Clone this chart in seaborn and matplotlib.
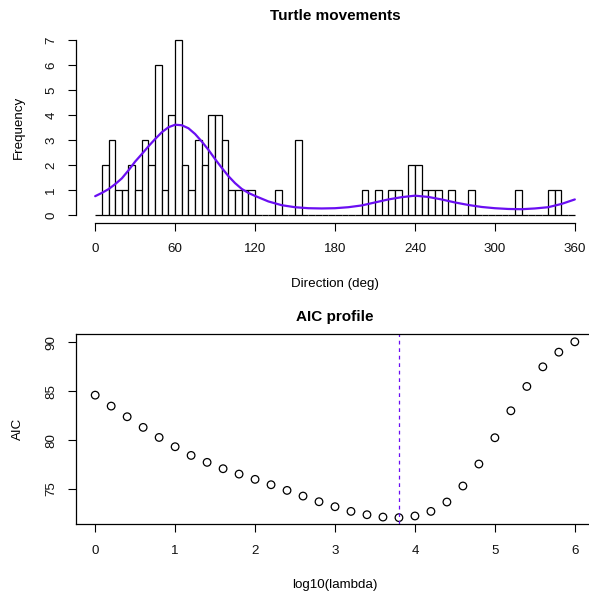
import numpy as np
import pandas as pd
import matplotlib
matplotlib.use("Agg")
import matplotlib.pyplot as plt
import seaborn as sns

sns.set_theme(style="white")
plt.rcParams["font.family"] = ["Liberation Sans", "DejaVu Sans"]
plt.rcParams["text.color"] = "black"
plt.rcParams["axes.labelcolor"] = "black"

# --- Histogram of directions: 5-degree bins, counts per bin ---
bin_edges = list(range(0, 365, 5))
bin_counts = [0, 2, 3, 1, 1, 2, 1, 3, 2, 6, 1, 4, 7, 2, 1, 3, 2, 4, 4, 3, 1, 1, 1, 1,
              0, 0, 0, 1, 0, 0, 3, 0, 0, 0, 0, 0, 0, 0, 0, 0, 1, 0, 1, 0, 1, 1, 0, 2,
              2, 1, 1, 1, 0, 1, 0, 0, 1, 0, 0, 0, 0, 0, 0, 1, 0, 0, 0, 0, 1, 1, 0, 0]

# --- Fitted density, scaled to frequency ---
curve_deg = [0, 5, 10, 15, 20, 25, 30, 35, 40, 45, 50, 55, 60, 65, 70, 75, 80, 85, 90,
             95, 100, 105, 110, 115, 120, 130, 140, 150, 160, 170, 180, 190, 200, 210,
             220, 230, 240, 250, 260, 270, 280, 290, 300, 310, 320, 330, 340, 350, 360]
curve_freq = [0.77, 0.90, 1.05, 1.25, 1.48, 1.80, 2.15, 2.45, 2.76, 3.05, 3.32, 3.52,
              3.62, 3.60, 3.48, 3.25, 2.95, 2.62, 2.25, 1.90, 1.57, 1.29, 1.06, 0.90,
              0.78, 0.56, 0.41, 0.33, 0.29, 0.28, 0.29, 0.33, 0.40, 0.52, 0.64, 0.73,
              0.79, 0.74, 0.64, 0.52, 0.42, 0.34, 0.29, 0.26, 0.25, 0.28, 0.33, 0.46, 0.64]

# --- AIC profile over log10(lambda) ---
log_lambda = [round(0.2 * i, 1) for i in range(31)]
aic = [84.61, 83.49, 82.40, 81.31, 80.28, 79.33, 78.44, 77.73, 77.08, 76.53, 75.99,
       75.44, 74.86, 74.28, 73.70, 73.19, 72.71, 72.37, 72.13, 72.07, 72.24, 72.71,
       73.67, 75.31, 77.56, 80.25, 83.01, 85.50, 87.51, 89.01, 90.07]
best_log_lambda = 3.8

x_ticks_dir = [0, 60, 120, 180, 240, 300, 360]
y_ticks_freq = [0, 1, 2, 3, 4, 5, 6, 7]
x_ticks_aic = [0, 1, 2, 3, 4, 5, 6]
y_ticks_aic = [75, 80, 85, 90]

line_col = "#6A0EF2"
W, H = 589, 596
fig = plt.figure(figsize=(W / 100, H / 100), dpi=100)

def px_axes(left, top, right, bottom):
    return fig.add_axes([left / W, 1 - bottom / H, (right - left) / W, (bottom - top) / H])

tick_fs = 9.6
lab_fs = 9.6
title_fs = 11

# ---------------- Top panel: histogram ----------------
ax1 = px_axes(76, 33, 594, 222.5)
hist_df = pd.DataFrame({"mid": [e + 2.5 for e in bin_edges[:-1]], "n": bin_counts})
sns.histplot(data=hist_df, x="mid", weights="n", bins=bin_edges, ax=ax1,
             color="white", edgecolor="black", linewidth=0.9, alpha=1)
sns.lineplot(x=curve_deg, y=curve_freq, ax=ax1, color=line_col, linewidth=1.6)
ax1.set_xlim(-14.4, 374.4)
ax1.set_ylim(-0.28, 7.28)
for s in ["top", "right"]:
    ax1.spines[s].set_visible(False)
ax1.spines["left"].set_bounds(0, 7)
ax1.spines["bottom"].set_bounds(0, 360)
ax1.set_xticks(x_ticks_dir)
ax1.set_yticks(y_ticks_freq)
ax1.set_yticklabels([str(v) for v in y_ticks_freq], rotation=90, va="center")
ax1.set_title("Turtle movements", fontsize=title_fs, fontweight="bold", pad=9)
ax1.set_xlabel("Direction (deg)", fontsize=lab_fs, labelpad=16)
ax1.set_ylabel("Frequency", fontsize=lab_fs, labelpad=15)

# ---------------- Bottom panel: AIC profile ----------------
ax2 = px_axes(76, 334, 594, 524)
sns.scatterplot(x=log_lambda, y=aic, ax=ax2, marker="o", s=30,
                facecolor="none", edgecolor="black", linewidth=0.9)
ax2.axvline(best_log_lambda, color=line_col, linestyle=(0, (3, 3)), linewidth=0.9)
ax2.set_xlim(-0.24, 6.24)
ax2.set_ylim(71.42, 90.87)
ax2.set_xticks(x_ticks_aic)
ax2.set_yticks(y_ticks_aic)
ax2.set_yticklabels([str(v) for v in y_ticks_aic], rotation=90, va="center")
ax2.set_title("AIC profile", fontsize=title_fs, fontweight="bold", pad=9)
ax2.set_xlabel("log10(lambda)", fontsize=lab_fs, labelpad=16)
ax2.set_ylabel("AIC", fontsize=lab_fs, labelpad=15)

for ax in (ax1, ax2):
    ax.set_facecolor("white")
    for s in ax.spines.values():
        s.set_color("black")
        s.set_linewidth(0.9)
    ax.tick_params(axis="both", direction="out", length=5.5, width=0.8, color="black",
                   labelsize=tick_fs, labelcolor="#111111", bottom=True, left=True)
    ax.tick_params(axis="x", pad=9.5)
    ax.tick_params(axis="y", pad=8)
    ax.grid(False)

fig.savefig("out.png", dpi=100, facecolor="white")
